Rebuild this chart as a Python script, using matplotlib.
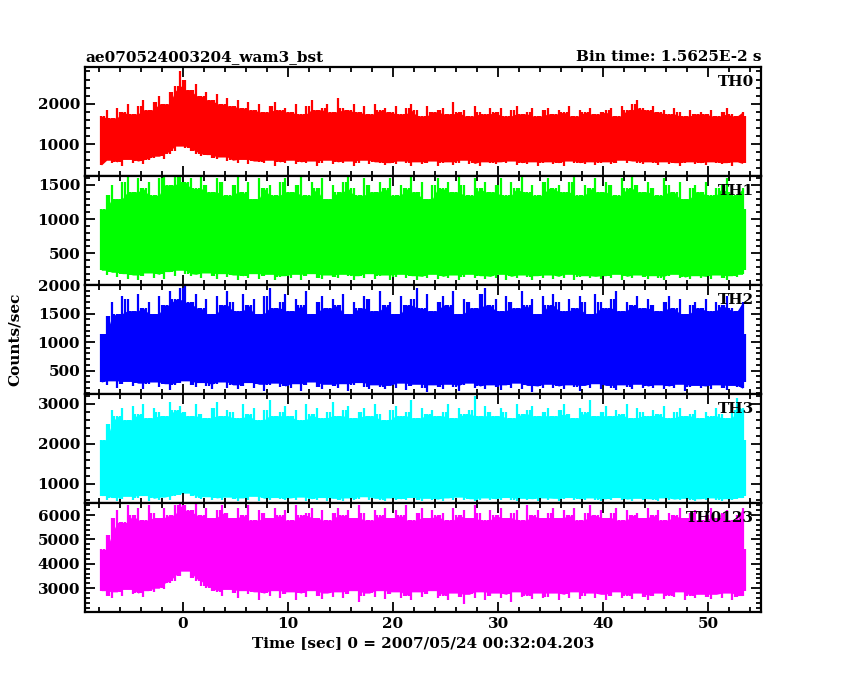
import matplotlib
matplotlib.use("Agg")
import matplotlib.pyplot as plt
import numpy as np
from matplotlib.ticker import MultipleLocator

t_start, t_step = -7.75, 0.5

th0_hi = [1700,1850,1650,1900,1800,2000,1750,1950,2100,1850,2050,2200,2000,2300,2450,
          2800,2600,2350,2500,2200,2300,2100,2250,2000,2150,
          1950,2100,1900,2050,1850,2000,1800,1950,2050,1850,
          1900,1800,2000,1750,1950,2100,1850,1900,2000,1800,
          2150,1900,1850,2000,1800,1950,1750,2000,1850,1900,
          1800,1950,1750,1900,2000,1850,1700,1950,1800,1850,
          1900,1750,2050,1800,1850,1700,1950,1800,1750,1900,
          1800,1900,1700,1850,1950,1750,1800,1900,1700,1850,
          1900,1750,1850,1800,1950,1700,1850,1800,1900,1750,
          1800,1850,1900,1700,1950,1850,2000,2100,1900,1850,
          1950,1800,1850,1750,1900,1800,1700,1850,1750,1800,
          1750,1850,1700,1800,1900,1750,1700,1800]
th0_lo = [480,600,520,560,450,620,540,580,500,610,650,700,620,760,820,
          950,900,820,760,700,740,660,620,680,590,
          600,540,620,500,580,560,520,600,470,560,
          540,600,500,560,520,580,470,540,600,500,
          560,520,580,460,540,600,500,560,520,480,
          540,500,580,520,470,560,500,540,580,460,
          520,560,480,540,600,500,520,460,560,540,
          500,560,520,580,480,540,500,560,460,520,
          560,500,540,470,580,520,540,500,560,480,
          520,560,500,540,600,520,580,540,500,560,
          520,480,560,500,540,460,520,560,500,540,
          480,560,520,500,540,470,560,520]

th1_hi = [1150,1350,1500,1300,1550,1620,1400,1600,1450,1550,1350,1600,1630,1500,1620,
          1630,1550,1600,1450,1620,1500,1400,1600,1550,1350,
          1500,1620,1400,1550,1300,1600,1450,1500,1350,1550,
          1600,1400,1500,1630,1350,1550,1450,1600,1300,1500,
          1400,1550,1620,1450,1350,1600,1500,1400,1550,1450,
          1600,1350,1500,1450,1620,1400,1550,1300,1500,1600,
          1450,1550,1400,1630,1500,1350,1600,1450,1550,1400,
          1500,1600,1350,1550,1450,1620,1400,1500,1350,1550,
          1600,1450,1500,1400,1550,1630,1350,1500,1450,1600,
          1400,1550,1500,1350,1600,1450,1620,1500,1400,1550,
          1450,1350,1600,1500,1400,1550,1300,1450,1500,1400,
          1550,1350,1450,1500,1600,1400,1350,1450]
th1_lo = [250,180,220,150,200,120,180,100,160,210,140,190,120,230,170,
          250,200,160,190,130,210,170,120,200,150,
          180,110,170,140,200,120,160,190,100,150,
          170,130,190,110,160,200,140,120,180,150,
          130,190,160,110,170,140,200,120,160,180,
          110,150,190,130,170,100,160,140,190,120,
          160,130,180,110,150,190,140,170,120,160,
          140,190,110,160,130,180,150,100,170,140,
          180,120,160,140,190,110,150,170,130,160,
          120,170,140,190,110,160,130,180,150,120,
          170,140,110,160,190,130,150,120,170,140,
          160,120,180,140,110,170,150,190]

th2_hi = [1150,1450,1700,1500,1800,1750,1550,1850,1600,1700,1500,1800,1650,1900,1750,
          1950,2000,1700,1850,1600,1750,1500,1800,1650,1900,
          1700,1550,1850,1650,1750,1500,1800,1950,1600,1700,
          1850,1550,1750,1650,1900,1500,1700,1800,1600,1750,
          1650,1850,1500,1700,1600,1800,1750,1550,1900,1650,
          1700,1500,1800,1650,1750,1950,1600,1850,1550,1700,
          1800,1650,1900,1500,1750,1700,1600,1850,1950,1650,
          1750,1550,1800,1700,1600,1900,1650,1750,1500,1800,
          1650,1850,1700,1550,1750,1600,1800,1700,1500,1850,
          1700,1600,1750,1900,1550,1700,1650,1800,1600,1750,
          1650,1550,1700,1800,1600,1750,1500,1650,1700,1600,
          1750,1550,1700,1650,1800,1600,1550,1700]
th2_lo = [300,250,320,200,270,310,230,280,180,260,300,220,270,160,240,
          280,320,250,210,290,230,180,260,300,200,
          250,170,230,290,200,260,150,240,280,210,
          230,190,270,140,250,300,210,180,260,230,
          200,270,150,240,290,220,180,250,210,170,
          240,200,280,160,230,260,190,120,250,220,
          180,260,210,150,240,280,200,230,170,250,
          210,160,250,200,280,180,240,130,230,200,
          260,190,230,170,250,210,150,240,200,270,
          180,240,200,160,250,220,180,260,200,230,
          190,250,170,230,200,260,150,220,240,190,
          230,180,250,200,160,240,210,190]

th3_hi = [2100,2500,2850,2700,2900,2600,2950,2750,3000,2650,2900,2800,2700,3050,2850,
          2950,2800,2700,3000,2750,2650,2900,3050,2700,2850,
          2800,2650,3000,2750,2900,2600,2850,3100,2700,2800,
          2950,2700,2850,2600,3000,2750,2900,2650,2800,3050,
          2700,2850,2950,2650,2800,2900,2700,3000,2750,2600,
          2850,2950,2700,2800,3100,2650,2900,2750,2850,2700,
          2800,3000,2650,2900,2750,2850,3200,2700,2950,2800,
          2700,2900,2800,2650,3000,2750,2850,2950,2700,2800,
          2900,2700,2850,3000,2750,2650,2900,2800,3100,2700,
          2800,2950,2700,2850,2750,3000,2650,2900,2800,2700,
          2850,2750,2950,2650,2800,2900,2700,2750,2850,2650,
          2800,2700,2900,2750,2650,2850,3150,2900]
th3_lo = [700,600,650,560,620,680,590,640,700,570,630,600,660,580,690,
          720,760,690,650,610,670,600,640,580,660,
          620,570,640,600,680,560,630,590,650,610,
          580,640,600,660,560,620,590,650,570,630,
          600,560,640,590,620,670,580,630,600,560,
          640,590,620,580,650,600,560,630,590,610,
          570,640,600,660,580,620,560,600,640,590,
          620,580,650,600,570,630,590,620,560,640,
          600,630,570,610,650,590,620,580,640,600,
          570,620,600,650,580,610,560,630,590,620,
          600,570,640,590,610,580,630,600,560,620,
          590,640,600,570,620,580,610,650]

th4_hi = [4600,5200,5900,6200,5700,6400,6000,6300,5800,6400,6100,5900,6300,6000,6400,
          6450,6400,6200,6450,6000,6300,5900,6200,6400,6100,
          5900,6300,6000,6400,5800,6200,6100,5900,6300,6000,
          6200,5800,6400,6000,6100,6300,5900,6200,5800,6100,
          6300,6000,6200,5900,6400,6100,5800,6200,6000,6300,
          5900,6200,6000,6400,5800,6100,6300,5900,6200,6000,
          6100,5800,6300,6000,6200,5900,6400,6100,5800,6200,
          6000,6300,5900,6100,6200,5800,6400,6000,6200,5900,
          6100,6300,5900,6200,6000,6300,5800,6100,6400,6000,
          6200,5900,6100,6300,5800,6200,6000,6100,5900,6300,
          6000,6200,5800,6100,6000,6300,5900,6100,6200,5800,
          6000,6300,5900,6100,6200,5800,6000,6300]
th4_lo = [2900,2700,2600,2850,2700,2950,2750,2800,2650,2900,2850,3000,2950,3200,3300,
          3500,3700,3400,3300,3100,3000,2900,2850,2700,2950,
          2800,2600,2900,2750,2850,2500,2800,2700,2900,2600,
          2750,2850,2500,2800,2650,2900,2700,2550,2800,2650,
          2850,2600,2750,2900,2450,2700,2800,2650,2900,2550,
          2750,2850,2600,2700,2500,2850,2650,2750,2900,2600,
          2700,2500,2800,2650,2350,2750,2600,2850,2500,2700,
          2800,2600,2750,2450,2850,2650,2700,2550,2800,2600,
          2650,2800,2500,2750,2600,2850,2550,2700,2800,2600,
          2750,2500,2700,2850,2600,2700,2550,2800,2650,2500,
          2700,2800,2550,2700,2650,2850,2500,2700,2600,2750,
          2650,2550,2750,2600,2800,2500,2650,2700]

labels = ["TH0", "TH1", "TH2", "TH3", "TH0123"]
colors = ["#ff0000", "#00ff00", "#0000ff", "#00ffff", "#ff00ff"]
his = [th0_hi, th1_hi, th2_hi, th3_hi, th4_hi]
los = [th0_lo, th1_lo, th2_lo, th3_lo, th4_lo]
ylims = [(210, 2910), (34, 1631), (90, 2000), (514, 3243), (2025, 6495)]
yticks = [[1000, 2000], [500, 1000, 1500], [500, 1000, 1500, 2000], [1000, 2000, 3000], [3000, 4000, 5000, 6000]]
yminor = [200, 100, 100, 200, 200]

FONT = "DejaVu Serif"
fig = plt.figure(figsize=(8.5, 6.8), dpi=100)
L, R, T, B = 85/850, 761/850, 1-67/680, 1-612/680
h = (T-B)/5
for i in range(5):
    ax = fig.add_axes([L, T-(i+1)*h, R-L, h])
    hi = np.array(his[i], float); lo = np.array(los[i], float)
    t = t_start + t_step*np.arange(len(hi))
    # dense core: envelope of neighbouring troughs, spikes drawn as thin vertical lines
    hi_core = np.minimum(hi, np.minimum(np.roll(hi, 1), np.roll(hi, -1)))
    lo_core = np.maximum(lo, np.maximum(np.roll(lo, 1), np.roll(lo, -1)))
    hi_core[0], hi_core[-1] = hi[0], hi[-1]
    lo_core[0], lo_core[-1] = lo[0], lo[-1]
    ax.fill_between(t, lo_core, hi_core, color=colors[i], lw=0)
    ax.vlines(t, lo, hi, color=colors[i], lw=1.6)
    ax.vlines(t + t_step/2, np.maximum(lo, np.roll(lo, -1))[:], np.minimum(hi, np.roll(hi, -1)),
              color=colors[i], lw=1.6)
    ax.set_xlim(-9.3, 55.0)
    ax.set_ylim(*ylims[i])
    ax.set_yticks(yticks[i])
    ax.yaxis.set_minor_locator(MultipleLocator(yminor[i]))
    ax.xaxis.set_major_locator(MultipleLocator(10))
    ax.xaxis.set_minor_locator(MultipleLocator(2))
    ax.tick_params(which="both", direction="in", top=True, right=True, width=1.3)
    ax.tick_params(which="major", length=7, labelsize=11)
    ax.tick_params(which="minor", length=3.5)
    for s in ax.spines.values():
        s.set_linewidth(1.6)
    for lab in ax.get_yticklabels():
        lab.set_fontfamily(FONT); lab.set_fontweight("bold")
    if i < 4:
        ax.set_xticklabels([])
    else:
        for lab in ax.get_xticklabels():
            lab.set_fontfamily(FONT); lab.set_fontweight("bold")
        ax.set_xlabel("Time [sec] 0 = 2007/05/24 00:32:04.203", fontfamily=FONT,
                      fontweight="bold", fontsize=11)
    ax.text(0.99, 0.93, labels[i], transform=ax.transAxes, ha="right", va="top",
            fontfamily=FONT, fontweight="bold", fontsize=11)
    if i == 0:
        ax.set_title("ae070524003204_wam3_bst", loc="left", fontfamily=FONT,
                     fontweight="bold", fontsize=11, pad=4)
        ax.set_title("Bin time: 1.5625E-2 s", loc="right", fontfamily=FONT,
                     fontweight="bold", fontsize=11, pad=4)

fig.text(0.018, (T+B)/2, "Counts/sec", rotation=90, va="center", ha="center",
         fontfamily=FONT, fontweight="bold", fontsize=11)
fig.savefig("out.png", dpi=100, facecolor="white")
